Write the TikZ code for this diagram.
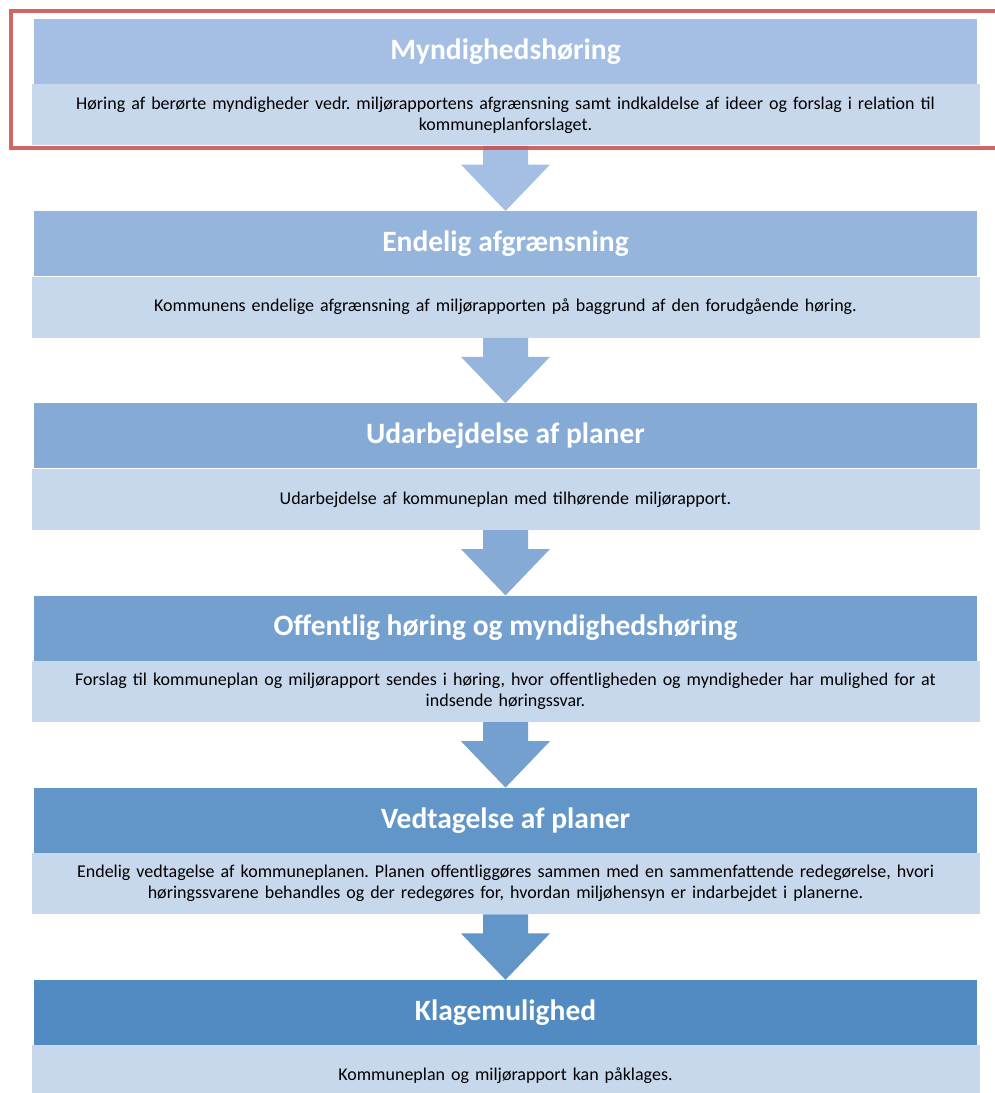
\documentclass[tikz,border=0pt]{standalone}
\usepackage{fontspec}
\setmainfont{Carlito}
\usetikzlibrary{calc,positioning}
\definecolor{headA}{HTML}{A4BFE3}
\definecolor{headB}{HTML}{95B5DC}
\definecolor{headC}{HTML}{85AAD6}
\definecolor{headD}{HTML}{73A0CF}
\definecolor{headE}{HTML}{6396C8}
\definecolor{headF}{HTML}{528BC2}
\definecolor{bodyblue}{HTML}{C8D8EC}
\definecolor{markred}{HTML}{C84A4E}
\newcommand{\blockarrow}[3]{
		\fill [#3] ($(#1.south)+(-22.5,0)$) -- ($(#1.south)+(-22.5,19)$) -- ($(#1.south)+(-44.5,19)$) -- (#2.north) -- ($(#1.south)+(44.5,19)$) -- ($(#1.south)+(22.5,19)$) -- ($(#1.south)+(22.5,0)$) -- cycle;
}
\frenchspacing
\begin{document}
\begin{tikzpicture}[x=1pt,y=-1pt]
		\tikzstyle{every node}+=[inner sep=0pt]
		\tikzstyle{head}=[minimum width=943pt, minimum height=65pt, text=white, font=\bfseries\fontsize{29.5}{33}\selectfont]
		\tikzstyle{body}=[fill=bodyblue, minimum width=948pt, minimum height=61pt, text width=940pt, align=center, font=\fontsize{18}{21}\selectfont]
		\useasboundingbox (0,0) rectangle (995,1093);
		\clip (0,0) rectangle (995,1093);
		\node [head, fill=headA] (h1) at (505.5,51.5) {Myndighedshøring};
		\node [body, below=0pt of h1] (b1) {Høring af berørte myndigheder vedr. miljørapportens afgrænsning samt indkaldelse af ideer og forslag i relation til\\kommuneplanforslaget.};
		\node [head, fill=headB, below=65.4pt of b1] (h2) {Endelig afgrænsning};
		\node [body, below=0pt of h2] (b2) {Kommunens endelige afgrænsning af miljørapporten på baggrund af den forudgående høring.};
		\node [head, fill=headC, below=65.4pt of b2] (h3) {Udarbejdelse af planer};
		\node [body, below=0pt of h3] (b3) {Udarbejdelse af kommuneplan med tilhørende miljørapport.};
		\node [head, fill=headD, below=65.4pt of b3] (h4) {Offentlig høring og myndighedshøring};
		\node [body, below=0pt of h4] (b4) {Forslag til kommuneplan og miljørapport sendes i høring, hvor offentligheden og myndigheder har mulighed for at\\indsende høringssvar.};
		\node [head, fill=headE, below=65.4pt of b4] (h5) {Vedtagelse af planer};
		\node [body, below=0pt of h5] (b5) {Endelig vedtagelse af kommuneplanen. Planen offentliggøres sammen med en sammenfattende redegørelse, hvori\\høringssvarene behandles og der redegøres for, hvordan miljøhensyn er indarbejdet i planerne.};
		\node [head, fill=headF, below=65.4pt of b5] (h6) {Klagemulighed};
		\node [body, below=0pt of h6] (b6) {Kommuneplan og miljørapport kan påklages.};
		\blockarrow{b1}{h2}{headA}
		\blockarrow{b2}{h3}{headB}
		\blockarrow{b3}{h4}{headC}
		\blockarrow{b4}{h5}{headD}
		\blockarrow{b5}{h6}{headE}
		\draw [markred, line width=4pt, opacity=0.85] (11,11) rectangle (1010,148);
\end{tikzpicture}
\end{document}
